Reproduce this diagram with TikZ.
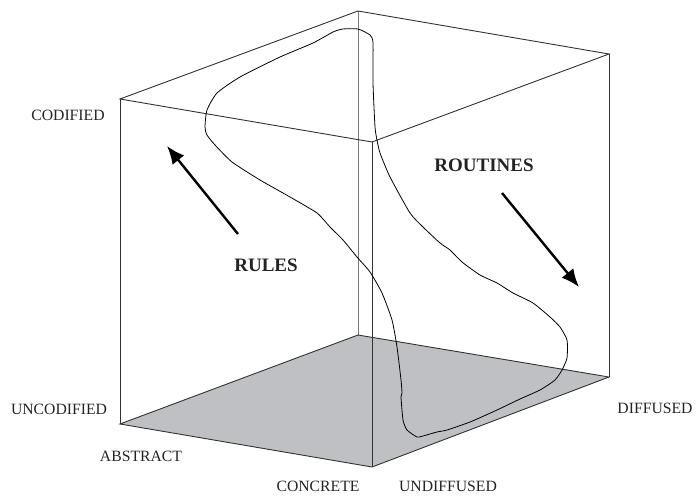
\documentclass[tikz,border=0pt]{standalone}
\usepackage{fontspec}
\setmainfont{Liberation Serif}
\usetikzlibrary{arrows.meta}
\definecolor{floorgray}{RGB}{191,192,196}
\definecolor{edgedark}{RGB}{50,50,50}
\definecolor{edgelight}{RGB}{120,120,120}
\definecolor{txt}{RGB}{35,35,35}
\tikzset{
  edge/.style={draw=edgedark, line width=0.9pt},
  backedge/.style={draw=edgelight, line width=0.9pt},
  axislabel/.style={inner sep=0pt, text=txt, font=\fontsize{15.7}{18}\selectfont},
  biglabel/.style={inner sep=0pt, text=txt, font=\fontsize{19}{22}\selectfont\bfseries},
  bigarrow/.style={line width=2.4pt, -{Latex[length=18pt,width=15pt]}},
  path curve/.style={draw=black, line width=0.8pt, line join=round}
}
\begin{document}
\begin{tikzpicture}[x=1pt,y=-1pt]
\useasboundingbox (0,0) rectangle (698,495);
% cube vertices
\coordinate (A) at (120,99);
\coordinate (B) at (358,11);
\coordinate (C) at (609,54);
\coordinate (D) at (372,142);
\coordinate (E) at (120,424);
\coordinate (F) at (358,335);
\coordinate (G) at (609,377);
\coordinate (H) at (372,467);
% floor
\fill[floorgray] (E) -- (F) -- (G) -- (H) -- cycle;
% back vertical edge
\draw[backedge] (B) -- (F);
% floor edges
\draw[edge] (E) -- (F) -- (G) -- (H) -- cycle;
% top face
\draw[edge] (A) -- (B) -- (C) -- (D) -- cycle;
% vertical edges
\draw[edge] (A) -- (E);
\draw[edge] (C) -- (G);
\draw[edge] (D) -- (H);
% curve
\draw[path curve] plot[smooth cycle, tension=0.35] coordinates {
 (358,29) (343,29) (333,32) (313,43) (280,57) (240,77) (217,93) (207,110)
 (205,127) (207,135) (215,145) (232,162) (260,180) (290,197) (317,213)
 (330,227) (343,240) (357,257) (370,272) (382,293) (392,320) (397,347)
 (401,380) (402,393) (401,397) (403,420) (407,430) (417,437) (423,436)
 (437,432) (447,430) (470,422) (497,410) (520,399) (540,390) (555,380)
 (562,370) (567,358) (567,340) (560,327) (550,317) (533,303) (513,293)
 (497,283) (480,275) (462,262) (450,250) (440,243) (423,227) (410,213)
 (390,177) (380,153) (377,140) (375,127) (373,83) (373,43) (370,35)
};
% arrows
\coordinate (rulestail) at (238,234);
\coordinate (rulestip) at (167,146);
\coordinate (routtail) at (502,193);
\coordinate (routtip) at (579,287);
\draw[bigarrow] (rulestail) -- (rulestip);
\draw[bigarrow] (routtail) -- (routtip);
% labels
\node[axislabel] (codified) at (68,115) {CODIFIED};
\node[axislabel] (uncodified) at (59,409) {UNCODIFIED};
\node[axislabel] (abstract) at (141,456) {ABSTRACT};
\node[axislabel] (concrete) at (318,486) {CONCRETE};
\node[axislabel] (undiffused) at (448,486) {UNDIFFUSED};
\node[axislabel] (diffused) at (655,408) {DIFFUSED};
\node[biglabel] (rules) at (266,265) {RULES};
\node[biglabel] (routines) at (484,165) {ROUTINES};
\end{tikzpicture}
\end{document}
